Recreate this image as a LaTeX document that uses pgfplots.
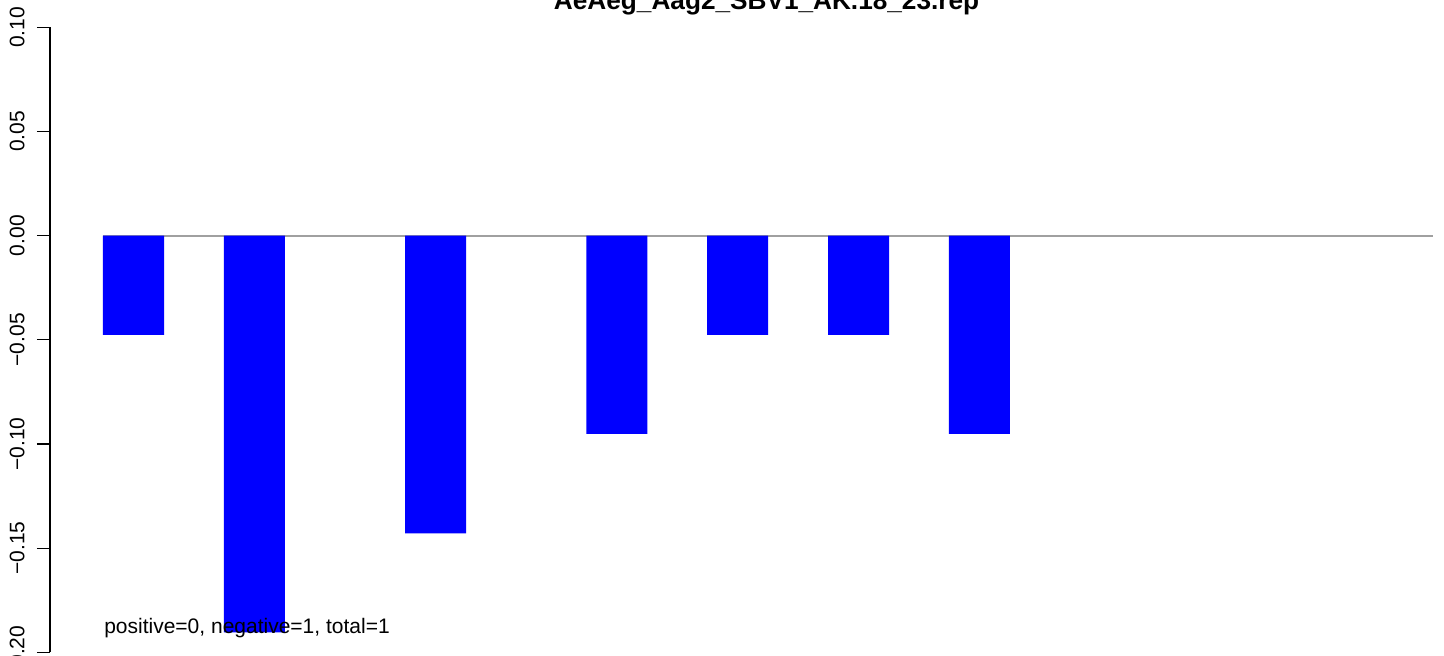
\documentclass[border=0pt]{standalone}
\usepackage{pgfplots}
\pgfplotsset{compat=1.18}
\usepackage{fontspec}
\setmainfont{Liberation Sans}
\definecolor{rblue}{RGB}{0,0,255}
\definecolor{zgray}{RGB}{160,160,160}
\begin{document}
\begin{tikzpicture}
\begin{axis}[
  at={(25pt,1.85pt)}, anchor=south west,
  scale only axis, width=697pt, height=312.5pt,
  xmin=-0.882, xmax=22.19, ymin=-0.2, ymax=0.1,
  axis x line=none, axis y line*=left,
  y axis line style={-, line width=0.6pt},
  ytick={-0.20,-0.15,-0.10,-0.05,0,0.05,0.10},
  yticklabels={−0.20,−0.15,−0.10,−0.05,0.00,0.05,0.10},
  tick align=outside, major tick length=6.5pt,
  ytick style={line width=0.6pt, black},
  yticklabel style={rotate=90, anchor=south, inner xsep=0pt, inner ysep=6pt, font=\fontsize{10.5}{12}\selectfont},
  clip=false,
]
\addplot[zgray, line width=1pt, forget plot] coordinates {(0,0) (22,0)};
\addplot[ybar, bar width=1.01, fill=rblue, draw=none] coordinates {
  (0.5,-0.0476) (2.5,-0.1905) (5.5,-0.1429) (8.5,-0.0952) (10.5,-0.0476) (12.5,-0.0476) (14.5,-0.0952)
};
\node[anchor=base west, inner sep=0pt, font=\fontsize{10.5}{12}\selectfont] at (axis cs:0.01,-0.1909) {positive=0, negative=1, total=1};
\end{axis}
\node[anchor=base, inner sep=0pt, font=\bfseries\fontsize{13.1}{15}\selectfont] at (383.3pt,323.25pt) {AeAeg\_Aag2\_SBV1\_AK.18\_23.rep};
\pgfresetboundingbox
\useasboundingbox (0,0) rectangle (722pt,328pt);
\end{tikzpicture}
\end{document}
